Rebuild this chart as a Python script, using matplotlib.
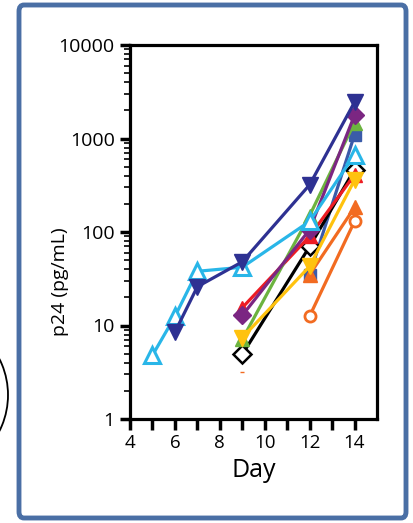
import matplotlib
matplotlib.use("Agg")
import matplotlib.pyplot as plt
from matplotlib.patches import FancyBboxPatch, Arc
from matplotlib.ticker import LogLocator, NullFormatter, FixedLocator

plt.rcParams["font.family"] = ["Open Sans", "DejaVu Sans"]

# data (day, p24 pg/mL)
navy_x = [6, 7, 9, 12, 14]
navy_y = [8.5, 26, 48, 320, 2450]

ltblue_x = [5, 6, 7, 9, 12, 14]
ltblue_y = [4.8, 12.5, 38, 42, 130, 670]

purple_x = [9, 12, 14]
purple_y = [12.8, 106, 1780]

green_x = [9, 12, 14]
green_y = [7.1, 150, 1480]

red_x = [9, 12, 14]
red_y = [15.5, 90, 410]

black_x = [9, 12, 14]
black_y = [4.9, 70, 465]

yellow_x = [9, 12, 14]
yellow_y = [7.4, 43, 360]

sq_x = [12, 14]
sq_y = [35, 1100]

orange_tri_x = [12, 14]
orange_tri_y = [35, 183]

orange_circ_x = [12, 14]
orange_circ_y = [12.6, 130]

orange_dot_x = [9]
orange_dot_y = [3.2]

fig = plt.figure(figsize=(4.13, 5.23), dpi=100)

# blue rounded frame
frame = FancyBboxPatch((19 / 413, 5 / 523), 387 / 413, 513 / 523,
                       boxstyle="round,pad=0,rounding_size=0.012",
                       transform=fig.transFigure, fill=False,
                       edgecolor="#4A6FA5", linewidth=3.5)
fig.patches.append(frame)

# part of a circle cut off at the left edge
arc = Arc((-72 / 413, 1 - 395 / 523), 160 / 413, 160 / 523,
          transform=fig.transFigure, color="black", linewidth=1.3)
fig.patches.append(arc)

ax = fig.add_axes([130 / 413, 1 - 419 / 523, 247 / 413, 374 / 523])

lw = 2.3
ax.plot(orange_dot_x, orange_dot_y, "_", color="#F26B21", markersize=3, markeredgewidth=1)
ax.plot(orange_circ_x, orange_circ_y, "o-", color="#F26B21", lw=lw, markersize=8,
        markerfacecolor="white", markeredgewidth=2)
ax.plot(sq_x, sq_y, "s-", color="#3A5BA9", lw=lw, markersize=9)
ax.plot(orange_tri_x, orange_tri_y, "^-", color="#F26B21", lw=lw, markersize=10)
ax.plot(black_x, black_y, "D-", color="black", lw=lw, markersize=9,
        markerfacecolor="white", markeredgewidth=1.8)
ax.plot(red_x, red_y, "^-", color="#ED1C24", lw=lw, markersize=10)
ax.plot(green_x, green_y, "^-", color="#6CB33F", lw=lw, markersize=10)
ax.plot(yellow_x, yellow_y, "v-", color="#FFC20E", lw=lw, markersize=11)
ax.plot(purple_x, purple_y, "D-", color="#7B2682", lw=lw, markersize=9)
ax.plot(ltblue_x, ltblue_y, "^-", color="#29B6E8", lw=lw, markersize=12,
        markerfacecolor="white", markeredgewidth=2.2)
ax.plot(navy_x, navy_y, "v-", color="#2E3192", lw=lw, markersize=12)

ax.set_yscale("log")
ax.set_ylim(1, 10000)
ax.set_xlim(4, 15)

ax.xaxis.set_major_locator(FixedLocator([4, 6, 8, 10, 12, 14]))
ax.xaxis.set_minor_locator(FixedLocator([5, 7, 9, 11, 13]))
ax.yaxis.set_major_locator(FixedLocator([1, 10, 100, 1000, 10000]))
ax.yaxis.set_major_formatter(lambda v, p: f"{v:g}")
ax.yaxis.set_minor_locator(LogLocator(base=10, subs=range(2, 10)))
ax.yaxis.set_minor_formatter(NullFormatter())

ax.tick_params(axis="x", which="both", direction="out", length=8, width=2.5,
               labelsize=13.5, pad=3)
ax.tick_params(axis="y", which="major", direction="out", length=7, width=2.5,
               labelsize=14, pad=4)
ax.tick_params(axis="y", which="minor", direction="out", length=4, width=1.2)

for s in ax.spines.values():
    s.set_linewidth(2.3)

ax.set_xlabel("Day", fontsize=18, labelpad=4)
fig.text(60 / 413, 1 - 282 / 523, "p24 (pg/mL)", rotation=90, fontsize=14,
         ha="center", va="center")

fig.savefig("out.png", dpi=100)
